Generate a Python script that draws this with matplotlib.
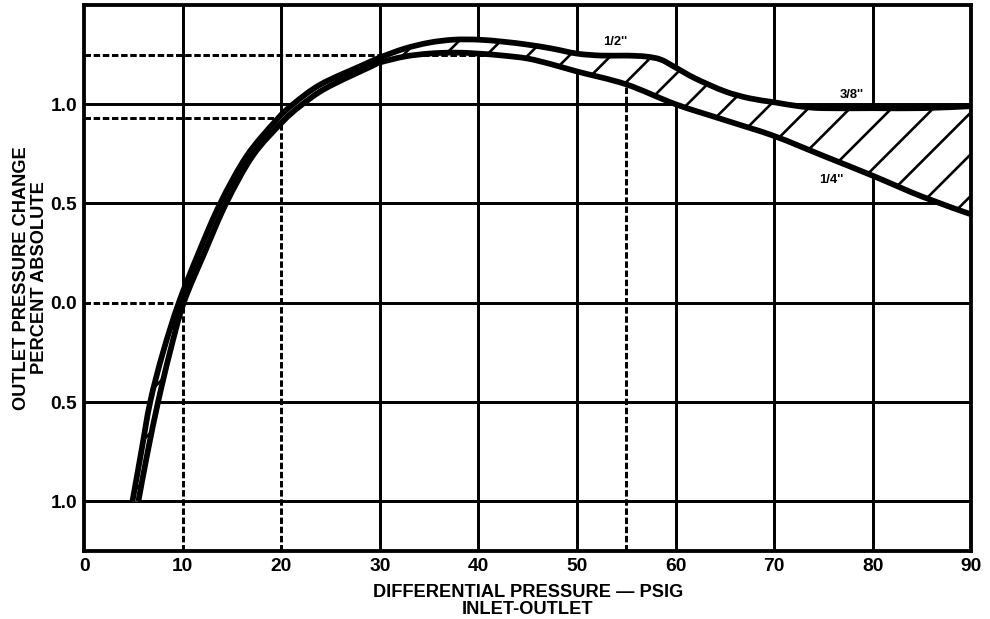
import numpy as np
import matplotlib
matplotlib.use('Agg')
import matplotlib.pyplot as plt
from matplotlib.path import Path
from matplotlib.patches import PathPatch

plt.rcParams['font.family'] = ['Liberation Sans', 'DejaVu Sans']
plt.rcParams['font.weight'] = 'bold'
plt.rcParams['hatch.linewidth'] = 1.5

# upper curve (left one on the rise, top of the band)
upper_x = [4.9, 5.8, 6.7, 8.0, 9.6, 11.6, 13.8, 16.5, 19.5, 21.2, 24.0, 28.4,
           30, 32.5, 35, 37.5, 40, 42.5, 45, 47.5, 50, 52.5, 55, 57, 58.5,
           60, 62, 65, 67.5, 70, 72.5, 75, 80, 85, 90]
upper_y = [-1.0, -0.75, -0.5, -0.25, 0.0, 0.25, 0.5, 0.74, 0.92, 1.0, 1.1, 1.2,
           1.235, 1.28, 1.31, 1.325, 1.325, 1.315, 1.30, 1.28, 1.255, 1.245,
           1.245, 1.24, 1.225, 1.185, 1.13, 1.065, 1.03, 1.01, 0.99, 0.98,
           0.98, 0.98, 0.99]

# lower curve (1/4")
lower_x = [5.5, 6.45, 7.5, 8.7, 10.1, 12.2, 14.4, 17.1, 20.1, 21.9, 24.5, 29.1,
           30, 32.5, 35, 37.5, 40, 42.5, 45, 47.5, 50, 55, 60, 65, 70, 75,
           80, 85, 90]
lower_y = [-1.0, -0.75, -0.5, -0.25, 0.0, 0.25, 0.5, 0.74, 0.91, 0.99, 1.08, 1.19,
           1.21, 1.24, 1.255, 1.26, 1.255, 1.245, 1.23, 1.20, 1.165, 1.10,
           1.0, 0.92, 0.84, 0.74, 0.64, 0.535, 0.445]

curve_labels = ["1/2''", "3/8''", "1/4''"]
label_pos = [(53.9, 1.313), (77.9, 1.045), (75.8, 0.62)]

x_ticks = [0, 10, 20, 30, 40, 50, 60, 70, 80, 90]
y_ticks = [1.0, 0.5, 0.0, -0.5, -1.0]
y_tick_labels = ['1.0', '0.5', '0.0', '0.5', '1.0']

# reference readings marked with dotted lines
ref_x = [10, 20, 55]
ref_y = [0.0, 0.93, 1.25]


def bezier_verts(xs, ys):
    """smooth cubic segments through the read points (catmull-rom style)"""
    p = np.column_stack([xs, ys]).astype(float)
    n = len(p)
    verts = [p[0]]
    codes = [Path.MOVETO]
    for i in range(n - 1):
        p0 = p[max(i - 1, 0)]
        p1 = p[i]
        p2 = p[i + 1]
        p3 = p[min(i + 2, n - 1)]
        verts += [p1 + (p2 - p0) / 6, p2 - (p3 - p1) / 6, p2]
        codes += [Path.CURVE4] * 3
    return verts, codes


fig = plt.figure(figsize=(7.92, 4.952), dpi=125)
ax = fig.add_axes([0.085, 0.11, 0.896, 0.882])
ax.set_xlim(0, 90)
ax.set_ylim(-1.25, 1.5)

grid_kw = dict(color='black', lw=1.7, zorder=1)
dash_kw = dict(color='black', lw=1.7, linestyles=(0, (2.2, 0.9)), zorder=1)

# grid: solid parts, dotted where the readings are
for gx in x_ticks[1:-1]:
    if gx in ref_x:
        yr = ref_y[ref_x.index(gx)]
        ax.vlines(gx, yr, 1.5, **grid_kw)
    else:
        ax.vlines(gx, -1.25, 1.5, **grid_kw)
for gy in y_ticks:
    if gy in ref_y:
        xr = ref_x[ref_y.index(gy)]
        ax.hlines(gy, xr, 90, **grid_kw)
    else:
        ax.hlines(gy, 0, 90, **grid_kw)

for rx, ry in zip(ref_x, ref_y):
    ax.hlines(ry, 0, rx, **dash_kw)
    ax.vlines(rx, -1.25, ry, **dash_kw)

# hatched band between curves
uv, uc = bezier_verts(upper_x, upper_y)
lv, lc = bezier_verts(lower_x[::-1], lower_y[::-1])
lc[0] = Path.LINETO
band = Path(uv + lv + [uv[0]], uc + lc + [Path.CLOSEPOLY])
ax.add_patch(PathPatch(band, facecolor='white', edgecolor='black', lw=0,
                       hatch='/', zorder=2))

for xs, ys in [(upper_x, upper_y), (lower_x, lower_y)]:
    v, c = bezier_verts(xs, ys)
    ax.add_patch(PathPatch(Path(v, c), fill=False, edgecolor='black',
                           lw=3.3, capstyle='butt', zorder=3))

for txt, (lx, ly) in zip(curve_labels, label_pos):
    ax.text(lx, ly, txt, fontsize=7.5, fontweight='bold', ha='center',
            va='center', zorder=4)

for s in ax.spines.values():
    s.set_linewidth(2.2)
ax.set_xticks(x_ticks)
ax.set_yticks(y_ticks)
ax.set_yticklabels(y_tick_labels)
ax.tick_params(length=0, labelsize=11, pad=4)
for lab in ax.get_xticklabels() + ax.get_yticklabels():
    lab.set_fontweight('bold')

ax.set_xlabel('DIFFERENTIAL PRESSURE \u2014 PSIG\nINLET-OUTLET', fontsize=10.5,
              fontweight='bold', linespacing=1.0, labelpad=5)
ax.set_ylabel('OUTLET PRESSURE CHANGE\nPERCENT ABSOLUTE', fontsize=10.5,
              fontweight='bold', linespacing=1.1, labelpad=1.5)

fig.savefig('out.png', dpi=125)
